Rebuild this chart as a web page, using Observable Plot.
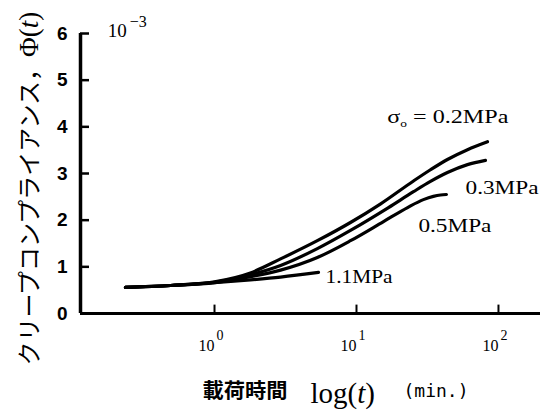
<!DOCTYPE html>
<html>
<head>
<meta charset="utf-8">
<script src="https://cdn.jsdelivr.net/npm/d3@7"></script>
<script src="https://cdn.jsdelivr.net/npm/@observablehq/plot@0.6"></script>
<style>
  body { margin: 0; background: #fff; }
  #chart svg { display: block; }
</style>
</head>
<body>
<div id="chart"></div>
<script>
// ---- data ----
const series = ["0.2MPa", "0.3MPa", "0.5MPa", "1.1MPa"];
const t02 = [0.236, 0.49, 1, 1.79, 2.92, 5.3, 9.07, 14.8, 25.2, 33.2, 43.7, 60.5, 83.7];
const v02 = [0.56, 0.60, 0.68, 0.87, 1.17, 1.56, 1.95, 2.35, 2.84, 3.08, 3.30, 3.51, 3.68];
const t03 = [0.236, 0.49, 1, 1.79, 2.92, 5.3, 9.07, 16.8, 25.2, 33.2, 43.7, 60.5, 81.0];
const v03 = [0.56, 0.60, 0.67, 0.83, 1.03, 1.39, 1.78, 2.27, 2.61, 2.83, 3.02, 3.19, 3.28];
const t05 = [0.236, 0.49, 1, 1.79, 2.92, 5.3, 9.07, 15.5, 22.9, 29.6, 34.8, 39.1, 43.0];
const v05 = [0.56, 0.60, 0.66, 0.79, 0.93, 1.20, 1.56, 1.97, 2.27, 2.44, 2.51, 2.54, 2.55];
const t11 = [0.236, 0.49, 1, 1.79, 2.92, 5.4];
const v11 = [0.56, 0.60, 0.66, 0.72, 0.78, 0.88];

const yTicks = [0, 1, 2, 3, 4, 5, 6];
const xTicks = [1, 10, 100];
const xTickExp = ["0", "1", "2"];

const labelText = ["σ0 = 0.2MPa", "0.3MPa", "0.5MPa", "1.1MPa"];
const labelT = [16.5, 58.6, 27.3, 6.05];
const labelV = [4.20, 2.69, 1.88, 0.78];
const labelWidth = [121, 73, 73, 67];

const xDomain = [0.1138, 197.7];
const yDomain = [0, 6];

const yTitle = "クリープコンプライアンス，";
const yTitleSym = "Φ(t)";
const xTitleJp = "載荷時間";
const xTitleLog = "log(t)";
const xTitleUnit = "(min.)";
const scaleNote = "10";
const scaleNoteExp = "−3";

// ---- build table ----
const curves = [
  [t02, v02], [t03, v03], [t05, v05], [t11, v11]
].flatMap(([ts, vs], k) => ts.map((t, i) => ({s: series[k], t, v: vs[i]})));
const labels = labelText.map((text, i) => ({text, t: labelT[i], v: labelV[i], w: labelWidth[i]}));

const xMin = xDomain[0];
const tickLenX = xMin * Math.pow(10, 9 / 142); // inward tick end (about 9px)
const tickLenY = 0.18;

const serif = "'Liberation Serif', 'Times New Roman', serif";
const cjk = "'Noto Sans CJK JP', sans-serif";

const plot = Plot.plot({
  width: 549,
  height: 413,
  marginLeft: 80,
  marginRight: 9,
  marginTop: 33,
  marginBottom: 100,
  x: {type: "log", domain: xDomain, axis: null},
  y: {domain: yDomain, axis: null},
  style: {background: "#fff", overflow: "visible"},
  marks: [
    // axis lines
    Plot.ruleY([0], {x1: xDomain[0], x2: xDomain[1], stroke: "#000", strokeWidth: 3}),
    Plot.ruleX([xMin], {y1: 0, y2: 6, stroke: "#000", strokeWidth: 3.5}),
    // inward ticks
    Plot.ruleY(yTicks, {x1: xMin, x2: tickLenX, stroke: "#000", strokeWidth: 2.5}),
    Plot.ruleX(xTicks, {y1: 0, y2: tickLenY, stroke: "#000", strokeWidth: 2}),
    // y tick labels
    Plot.text(yTicks, {x: xMin, y: d => d, text: d => String(d), dx: -13, textAnchor: "end",
      fontSize: 19, fontWeight: "bold", fontFamily: "'Liberation Sans Narrow', 'Liberation Sans', Arial, sans-serif"}),
    // x tick labels
    Plot.text(xTicks, {x: d => d, y: 0, text: () => "10", dx: 0, dy: 32, textAnchor: "end",
      fontSize: 16, fontFamily: serif}),
    Plot.text(xTicks, {x: d => d, y: 0, text: (d, i) => xTickExp[i], dx: 2, dy: 22, textAnchor: "start",
      fontSize: 14, fontFamily: serif}),
    // scale note 10^-3
    Plot.text([0], {x: 0.18, y: 6, text: () => scaleNote, dx: -1, dy: -3, textAnchor: "start",
      fontSize: 19, fontFamily: serif}),
    Plot.text([0], {x: 0.18, y: 6, text: () => scaleNoteExp, dx: 21, dy: -12, textAnchor: "start",
      fontSize: 16, fontFamily: serif}),
    // curves
    Plot.line(curves, {x: "t", y: "v", z: "s", stroke: "#000", strokeWidth: 3.2, curve: "monotone-x"}),
    // curve labels
    Plot.text(labels, {x: "t", y: "v", text: "text", textAnchor: "start", fontSize: 18,
      fontFamily: serif}),
    // y title (Japanese part + Φ(t) in one line)
    Plot.text([yTitle + yTitleSym], {frameAnchor: "bottom-left", dx: -43, dy: 52, rotate: -90, textAnchor: "start",
      fontSize: 24, fontFamily: cjk}),
    // x title
    Plot.text([xTitleJp], {frameAnchor: "bottom-left", dx: 122, dy: 84, textAnchor: "start",
      fontSize: 20, fontWeight: "bold", fontFamily: cjk}),
    Plot.text([xTitleLog], {frameAnchor: "bottom-left", dx: 230, dy: 89, textAnchor: "start",
      fontSize: 29, fontFamily: serif}),
    Plot.text([xTitleUnit], {frameAnchor: "bottom-left", dx: 323, dy: 83, textAnchor: "start",
      fontSize: 17, fontFamily: "'DejaVu Sans Mono', monospace"})
  ]
});

document.getElementById("chart").appendChild(plot);

const svg = d3.select(plot);
const texts = svg.selectAll("text");

// stretch texts to the reference widths
function fit(el, w) {
  el.attr("textLength", w).attr("lengthAdjust", "spacingAndGlyphs");
}
texts.each(function() {
  const s = this.textContent;
  const el = d3.select(this);
  const k = labelText.indexOf(s);
  if (k >= 0) {
    if (s.startsWith("σ0")) {
      el.text(null);
      el.append("tspan").text("σ");
      el.append("tspan").attr("font-size", 10).attr("dy", 4).text("o");
      el.append("tspan").attr("dy", -4).text(s.slice(2));
    }
    fit(el, labelWidth[k]);
  } else if (s === yTitle + yTitleSym) {
    el.text(null);
    el.append("tspan").text(yTitle);
    el.append("tspan").attr("font-family", serif).attr("font-size", 27).text("Φ(");
    el.append("tspan").attr("font-family", serif).attr("font-size", 27).attr("font-style", "italic").text("t");
    el.append("tspan").attr("font-family", serif).attr("font-size", 27).text(")");
  } else if (s === xTitleJp) {
    fit(el, 85);
  } else if (s === xTitleUnit) {
    fit(el, 65);
  } else if (s === xTitleLog) {
    const i = s.indexOf("t");
    el.text(null);
    el.append("tspan").text(s.slice(0, i));
    el.append("tspan").attr("font-style", "italic").text("t");
    el.append("tspan").text(s.slice(i + 1));
  }
});
</script>
</body>
</html>
